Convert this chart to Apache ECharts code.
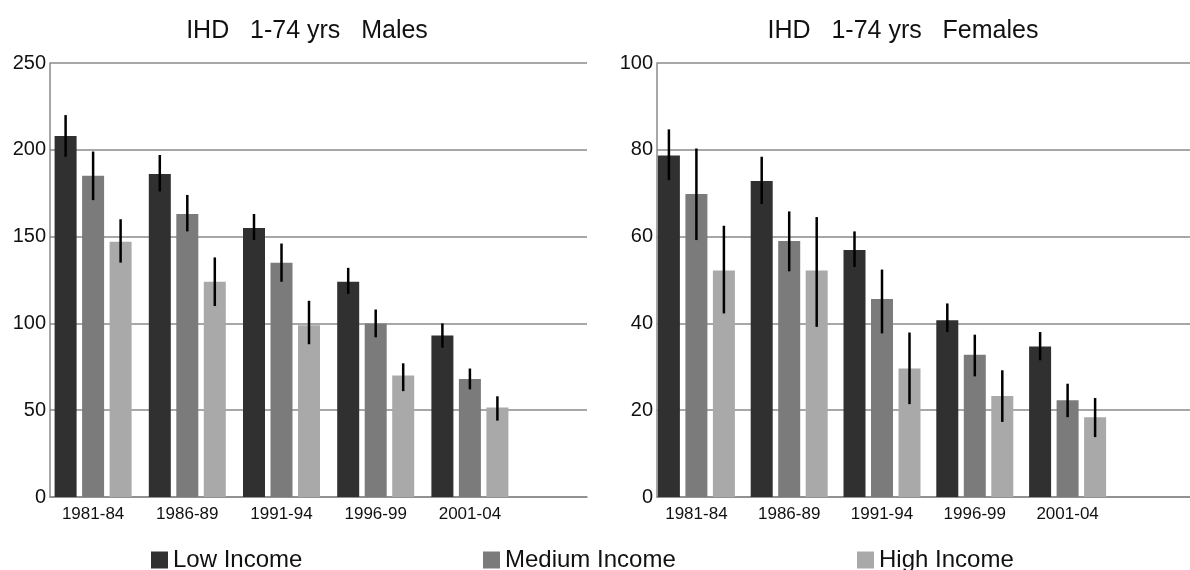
<!DOCTYPE html>
<html>
<head>
<meta charset="utf-8">
<script src="https://cdn.jsdelivr.net/npm/echarts@6/dist/echarts.min.js"></script>
<style>
  html, body { margin: 0; padding: 0; background: #fff; }
  #chart { width: 1190px; height: 570px; }
</style>
</head>
<body>
<div id="chart"></div>
<script>
// periods on the x axis
const periods = ['1981-84', '1986-89', '1991-94', '1996-99', '2001-04'];
const groups = ['Low Income', 'Medium Income', 'High Income'];

// males, rate per 100 000
const maleLow = [208, 186, 155, 124, 93];
const maleMed = [185, 163, 135, 100, 68];
const maleHigh = [147, 124, 99, 70, 51.5];
const maleLowCI = [[196, 220], [176, 197], [148, 163], [117, 132], [86, 100]];
const maleMedCI = [[171, 199], [153, 174], [124, 146], [92, 108], [62, 74]];
const maleHighCI = [[135, 160], [110, 138], [88, 113], [61, 77], [44, 58]];

// females
const femLow = [78.7, 72.8, 56.9, 40.7, 34.7];
const femMed = [69.8, 59, 45.6, 32.8, 22.3];
const femHigh = [52.2, 52.2, 29.6, 23.3, 18.4];
const femLowCI = [[73, 84.7], [67.5, 78.4], [53, 61.2], [38, 44.6], [31.5, 38]];
const femMedCI = [[59.2, 80.3], [52, 65.8], [37.7, 52.4], [27.8, 37.4], [18.4, 26.1]];
const femHighCI = [[42.3, 62.5], [39.2, 64.5], [21.4, 37.9], [17.3, 29.2], [13.8, 22.8]];

const colors = ['#303030', '#7b7b7b', '#a9a9a9'];
const BAR_W = 22, BAR_GAP = 5.5;
const FONT = 'Liberation Sans, Arial, sans-serif';

const chart = echarts.init(document.getElementById('chart'));

function barSeries(name, data, idx, axis) {
  return {
    name: name, type: 'bar', data: data,
    xAxisIndex: axis, yAxisIndex: axis,
    barWidth: BAR_W, barGap: '25%',
    itemStyle: { color: colors[idx] },
    silent: true
  };
}

// vertical error line drawn on top of each bar
function errSeries(ci, idx, axis) {
  return {
    type: 'custom', name: 'err' + axis + idx,
    xAxisIndex: axis, yAxisIndex: axis,
    data: ci.map((d, i) => [i, d[0], d[1]]),
    z: 10, silent: true,
    renderItem: function (params, api) {
      const off = (idx - 1) * (BAR_W + BAR_GAP);
      const lo = api.coord([api.value(0), api.value(1)]);
      const hi = api.coord([api.value(0), api.value(2)]);
      return {
        type: 'line',
        shape: { x1: lo[0] + off, y1: lo[1], x2: hi[0] + off, y2: hi[1] },
        style: { stroke: '#000', lineWidth: 2.5 }
      };
    }
  };
}

const frameY = (max, interval, grid) => ({
  type: 'value', gridIndex: grid, min: 0, max: max, interval: interval,
  axisLine: { show: true, lineStyle: { color: '#8a8a8a', width: 1.5 } },
  axisTick: { show: false },
  axisLabel: { color: '#111', fontSize: 20, fontFamily: FONT, margin: 4 },
  splitLine: { lineStyle: { color: '#8a8a8a', width: 1.5 } }
});
const frameX = (grid) => ({
  type: 'value', gridIndex: grid, min: 0, max: 1,
  axisLine: { show: true, onZero: false, lineStyle: { color: '#8a8a8a', width: 1.5 } },
  axisTick: { show: false }, axisLabel: { show: false }, splitLine: { show: false }
});
const barX = (grid) => ({
  type: 'category', gridIndex: grid, data: periods,
  axisLine: { show: false }, axisTick: { show: false },
  axisLabel: { color: '#111', fontSize: 17, fontFamily: FONT, margin: 9 }
});
const barY = (max, grid) => ({
  type: 'value', gridIndex: grid, min: 0, max: max, show: false
});

const legendBase = (name, left) => ({
  data: [name], left: left, top: 543, icon: 'rect',
  itemWidth: 17, itemHeight: 17, itemGap: 0,
  selectedMode: false,
  textStyle: { fontSize: 24, fontFamily: FONT, color: '#111', padding: [0, 0, 0, 0] }
});

const titleStyle = { fontSize: 25, fontWeight: 'normal', fontFamily: FONT, color: '#111' };

chart.setOption({
  animation: false,
  title: [
    { text: 'IHD   1-74 yrs   Males', left: 302, top: 14, textAlign: 'center', textStyle: titleStyle },
    { text: 'IHD   1-74 yrs   Females', left: 898, top: 14, textAlign: 'center', textStyle: titleStyle }
  ],
  legend: [
    legendBase(groups[0], 146),
    legendBase(groups[1], 478),
    legendBase(groups[2], 852)
  ],
  grid: [
    { left: 50, top: 63, width: 537, height: 434 },
    { left: 46, top: 63, width: 471, height: 434 },
    { left: 657, top: 63, width: 533, height: 434 },
    { left: 650, top: 63, width: 464, height: 434 }
  ],
  xAxis: [frameX(0), barX(1), frameX(2), barX(3)],
  yAxis: [frameY(250, 50, 0), barY(250, 1), frameY(100, 20, 2), barY(100, 3)],
  series: [
    barSeries(groups[0], maleLow, 0, 1),
    barSeries(groups[1], maleMed, 1, 1),
    barSeries(groups[2], maleHigh, 2, 1),
    errSeries(maleLowCI, 0, 1),
    errSeries(maleMedCI, 1, 1),
    errSeries(maleHighCI, 2, 1),
    barSeries(groups[0], femLow, 0, 3),
    barSeries(groups[1], femMed, 1, 3),
    barSeries(groups[2], femHigh, 2, 3),
    errSeries(femLowCI, 0, 3),
    errSeries(femMedCI, 1, 3),
    errSeries(femHighCI, 2, 3)
  ]
});
</script>
</body>
</html>
